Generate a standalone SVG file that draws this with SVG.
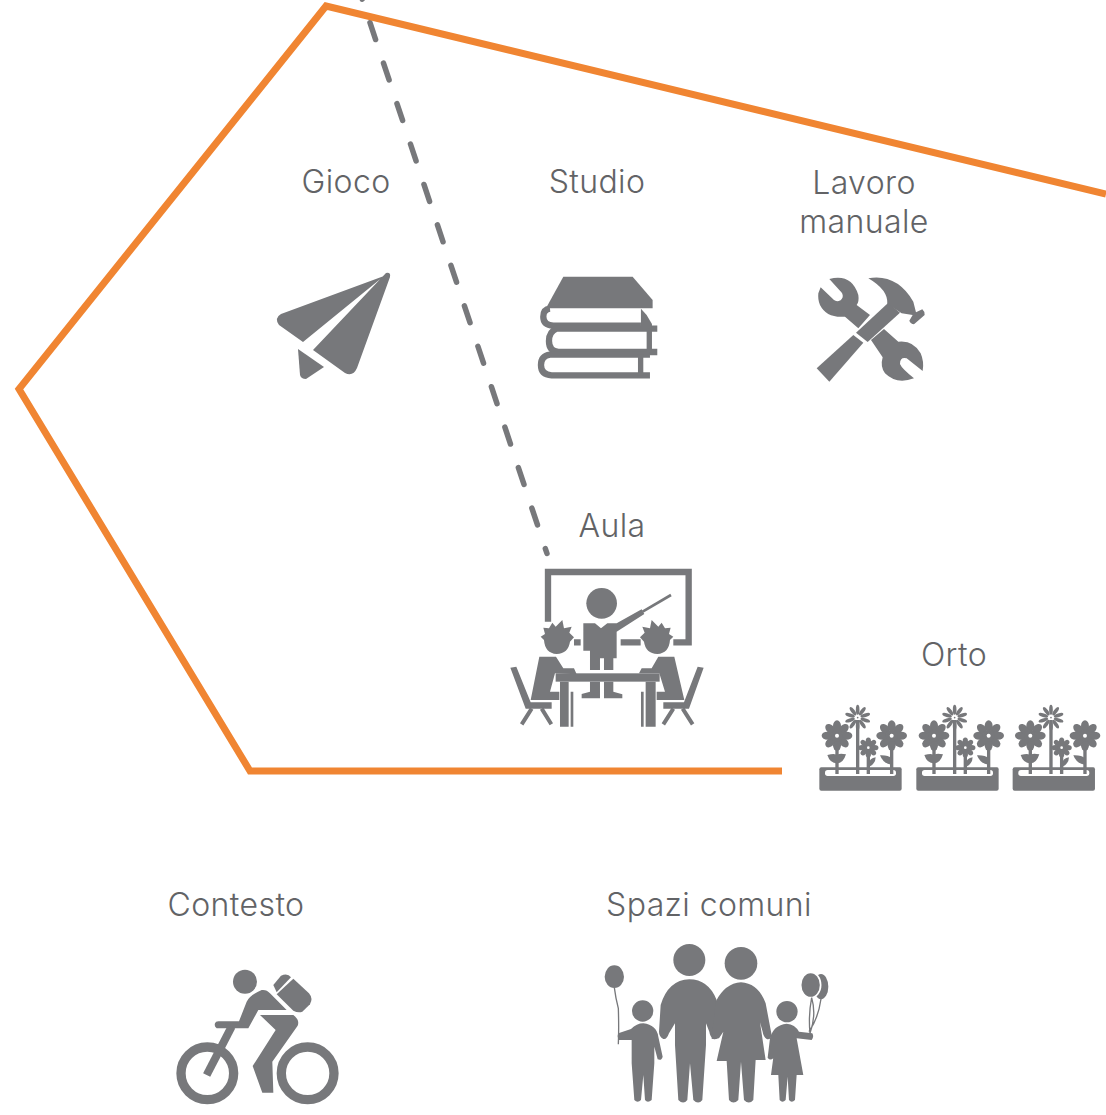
<svg xmlns="http://www.w3.org/2000/svg" xmlns:xlink="http://www.w3.org/1999/xlink" width="1106" height="1115" viewBox="0 0 1106 1115">
<style>
text{font-family:"Inter","Liberation Sans",sans-serif;font-weight:300;font-size:32px;letter-spacing:.4px;fill:#626366;text-anchor:middle}
.i{fill:#77787b}
.w{fill:#fff}
.s{fill:none;stroke:#77787b}
.o{fill:none;stroke:#f08532;stroke-width:7}
</style>
<defs>
<g id="big" class="i"><ellipse cy="-29" rx="12" ry="17"/><ellipse cy="-29" rx="12" ry="17" transform="rotate(45)"/><ellipse cy="-29" rx="12" ry="17" transform="rotate(90)"/><ellipse cy="-29" rx="12" ry="17" transform="rotate(135)"/><ellipse cy="-29" rx="12" ry="17" transform="rotate(180)"/><ellipse cy="-29" rx="12" ry="17" transform="rotate(225)"/><ellipse cy="-29" rx="12" ry="17" transform="rotate(270)"/><ellipse cy="-29" rx="12" ry="17" transform="rotate(315)"/><circle r="18"/><circle class="w" r="6"/></g>
<g id="star" class="i"><ellipse cy="-24" rx="5.5" ry="15"/><ellipse cy="-24" rx="5.5" ry="15" transform="rotate(36)"/><ellipse cy="-24" rx="5.5" ry="15" transform="rotate(72)"/><ellipse cy="-24" rx="5.5" ry="15" transform="rotate(108)"/><ellipse cy="-24" rx="5.5" ry="15" transform="rotate(144)"/><ellipse cy="-24" rx="5.5" ry="15" transform="rotate(180)"/><ellipse cy="-24" rx="5.5" ry="15" transform="rotate(216)"/><ellipse cy="-24" rx="5.5" ry="15" transform="rotate(252)"/><ellipse cy="-24" rx="5.5" ry="15" transform="rotate(288)"/><ellipse cy="-24" rx="5.5" ry="15" transform="rotate(324)"/><circle class="w" r="5"/><circle r="2.5"/></g>
<g id="planter">
<path class="i" d="M34 202H270Q275 202 275 208V266Q275 272 269 272H34Q28 272 28 266V208Q28 202 34 202Z"/>
<rect class="w" x="45" y="210" width="213" height="18" rx="8"/>
<path class="s" stroke-width="10" d="M81 120V222M143 60V222M175 150V222M245 120V222"/>
<path class="i" d="M52 165Q80 158 81 168Q82 158 108 163Q100 190 81 190Q60 190 52 165Z"/>
<path class="i" d="M210 166Q235 165 245 175V194Q220 192 210 166Z"/>
<path class="i" d="M175 198Q176 175 197 172Q197 192 175 202Z"/>
<use xlink:href="#big" href="#big" x="81" y="107"/>
<use xlink:href="#big" href="#big" x="245" y="107"/>
<use xlink:href="#star" href="#star" x="143" y="53"/>
<g transform="translate(175 143) scale(.66)"><use xlink:href="#big" href="#big"/></g>
</g>
</defs>

<g id="connectors">
<path id="dash" class="s" stroke-width="5.5" stroke-linecap="round" stroke-dasharray="17.8 24.84" d="M356.5 -17.8L547 553.5"/>
<path id="boundary" class="o" d="M1106 194L326 6L19 389L250 771H782"/>
</g>

<g id="gioco">
<text x="346" y="193">Gioco</text>
<path class="i" d="M386 273Q391 272 390 277L357 368Q353 377 345 373L313 350ZM384 276L303 342L279 325Q274 318 281 314Z"/>
<path class="i" d="M298 349L324 367L306 379Q301 379 300 375Z"/>
</g>

<g id="studio">
<text x="597" y="193">Studio</text>
<g transform="translate(260 250) scale(.3333)">
<path class="i" d="M910 80H1118L1178 150V175H858Z"/>
<path class="s" stroke-width="19" d="M1143 227H880Q850 225 850 200Q850 178 870 176"/>
<path class="s" stroke-width="19" d="M1192 306H895Q867 303 867 273Q867 245 890 236H1192"/>
<path class="s" stroke-width="19" d="M1170 376H875Q843 374 843 345Q843 318 870 314H1170"/>
<path class="i" d="M1143 176L1160 195L1176 222V235H1143Z"/>
<rect class="i" x="1160" y="236" width="16" height="70"/>
<rect class="i" x="1134" y="314" width="16" height="62"/>
</g>
</g>

<g id="lavoro">
<text x="864" y="194">Lavoro</text>
<text x="864" y="233">manuale</text>
<g transform="translate(790 260) scale(.3333)" class="i">
<path d="M118 57Q185 40 205 105Q208 125 200 135L240 165L205 205L165 170Q110 175 90 135Q83 120 85 100L92 82L132 120Q150 130 158 112Q160 100 150 92Z"/>
<path d="M282 207L325 245Q370 240 392 280Q403 305 398 333L350 295Q330 290 330 312Q335 325 372 355Q320 375 285 340Q270 320 278 292L243 240Z"/>
<path d="M80 325L190 225L220 248L118 365Z"/>
<path d="M198 218L295 128L330 158L233 246Z"/>
<path d="M235 55Q320 40 370 125L378 157L397 148Q405 155 404 165L372 193Q362 192 358 182L368 165L335 160L292 132Q295 90 235 55Z"/>
</g>
</g>

<g id="aula">
<text x="612" y="537">Aula</text>
<g transform="translate(500 560) scale(.3333)">
<path class="s" stroke-width="19" d="M144 185V36H566V247H520M362 247H422M222 247H242"/>
<circle class="i" cx="305" cy="130" r="46"/>
<path class="i" d="M250 190H285L303 205L322 190H350L425 148L433 162L350 215V295H340V330H312V295H300V330H270V272H250Z"/>
<path class="s" stroke-width="8" d="M428 155L513 105"/>
<path class="i" d="M270 365H300V415H245V402L270 395ZM312 365H340V395L367 403V415H312Z"/>
<path class="i" d="M130 203L147 205L157 188L167 200L187 180L192 205L215 200L208 218L222 232L210 245Q205 280 170 282Q135 280 132 240L122 230L135 222Z"/>
<g transform="translate(642 0) scale(-1 1)"><path class="i" d="M130 203L147 205L157 188L167 200L187 180L192 205L215 200L208 218L222 232L210 245Q205 280 170 282Q135 280 132 240L122 230L135 222Z"/></g>
<path class="i" d="M118 290H168L190 325L222 325L230 343L165 340L150 395H178V420H92Z"/>
<path class="i" d="M475 290H523L553 420H470V395H495L478 340L417 340L425 325L455 325Z"/>
<rect class="i" x="167" y="340" width="312" height="25"/>
<path class="i" d="M180 365H206V500H180ZM212 395H220V500H212ZM437 365H467V500H437ZM423 395H431V500H423Z"/>
<path class="i" d="M31 323L49 320L92 427H155V446H77Z"/>
<path class="s" stroke-width="12" d="M95 446L65 493M125 446L154 493"/>
<path class="i" d="M593 320L611 323L567 446H490V427H552Z"/>
<path class="s" stroke-width="12" d="M520 446L490 493M548 446L578 493"/>
</g>
</g>

<g id="orto">
<text x="954" y="666">Orto</text>
<g transform="translate(810 700) scale(.3333)">
<use xlink:href="#planter" href="#planter"/>
<use xlink:href="#planter" href="#planter" x="291"/>
<use xlink:href="#planter" href="#planter" x="580"/>
</g>
</g>

<g id="contesto">
<text x="236" y="916">Contesto</text>
<g transform="translate(165 960) scale(.3333)">
<circle class="i" cx="240" cy="65" r="36"/>
<circle class="s" stroke-width="28" cx="127" cy="340" r="79"/>
<circle class="s" stroke-width="28" cx="428" cy="340" r="79"/>
<path class="i" d="M290 90Q305 88 315 100L365 150H280L250 205H155Q147 200 150 190Q152 184 160 184H222L245 125Q255 105 290 90Z"/>
<path class="i" d="M285 165H385Q405 180 398 197L322 305L325 398H292L263 318L332 210Z"/>
<path class="s" stroke-width="24" d="M200 200L125 345"/>
<path class="i" d="M325 75L348 47Q368 38 378 52L335 97Z"/>
<path class="i" d="M385 56L432 100Q445 115 435 133L412 155Q400 160 385 152L335 103Z"/>
</g>
</g>

<g id="spazi">
<text x="709" y="916">Spazi comuni</text>
<g transform="translate(595 935) scale(.3333)">
<g class="i">
<circle cx="283" cy="75" r="48"/>
<circle cx="438" cy="85" r="49"/>
<circle cx="143" cy="228" r="32"/>
<circle cx="576" cy="230" r="32"/>
<path d="M283 133Q340 133 365 195L372 305Q365 315 355 312Q345 305 343 290L333 265V330L322 495Q310 510 295 495L285 385L277 495Q265 510 250 495L240 330V265L222 295Q215 315 205 312Q192 305 192 290L197 210Q220 135 283 133Z"/>
<path d="M438 142Q490 145 512 205L530 300Q528 315 515 312Q505 305 503 290L495 262L512 375H482L475 495Q462 510 447 495L438 380L430 495Q415 510 402 495L395 378H365L385 290L372 310L350 312L362 200Q390 145 438 142Z"/>
<path d="M145 265Q185 270 190 305L203 365Q200 378 188 373L178 335V385L170 495Q158 505 150 495L145 420L138 495Q128 505 118 495L110 385V315L72 315Q65 305 70 295L108 282Q125 265 145 265Z"/>
<path d="M575 266Q600 268 612 290L652 295Q658 305 650 315L605 310L625 420H605L600 495Q590 505 582 495L578 425L572 495Q562 505 554 495L550 420H528L542 315L535 370Q525 378 518 368L525 310Q535 270 575 266Z"/>
<ellipse cx="58" cy="125" rx="29" ry="34"/>
<ellipse cx="678" cy="155" rx="22" ry="38"/>
<ellipse cx="647" cy="150" rx="30" ry="38" stroke="#fff" stroke-width="5"/>
</g>
<path class="s" stroke-width="4" d="M58 158Q62 190 70 220Q72 280 70 328M650 188Q640 240 645 295M650 188Q665 240 645 295M678 192Q670 250 642 290"/>
</g>
</g>
</svg>
